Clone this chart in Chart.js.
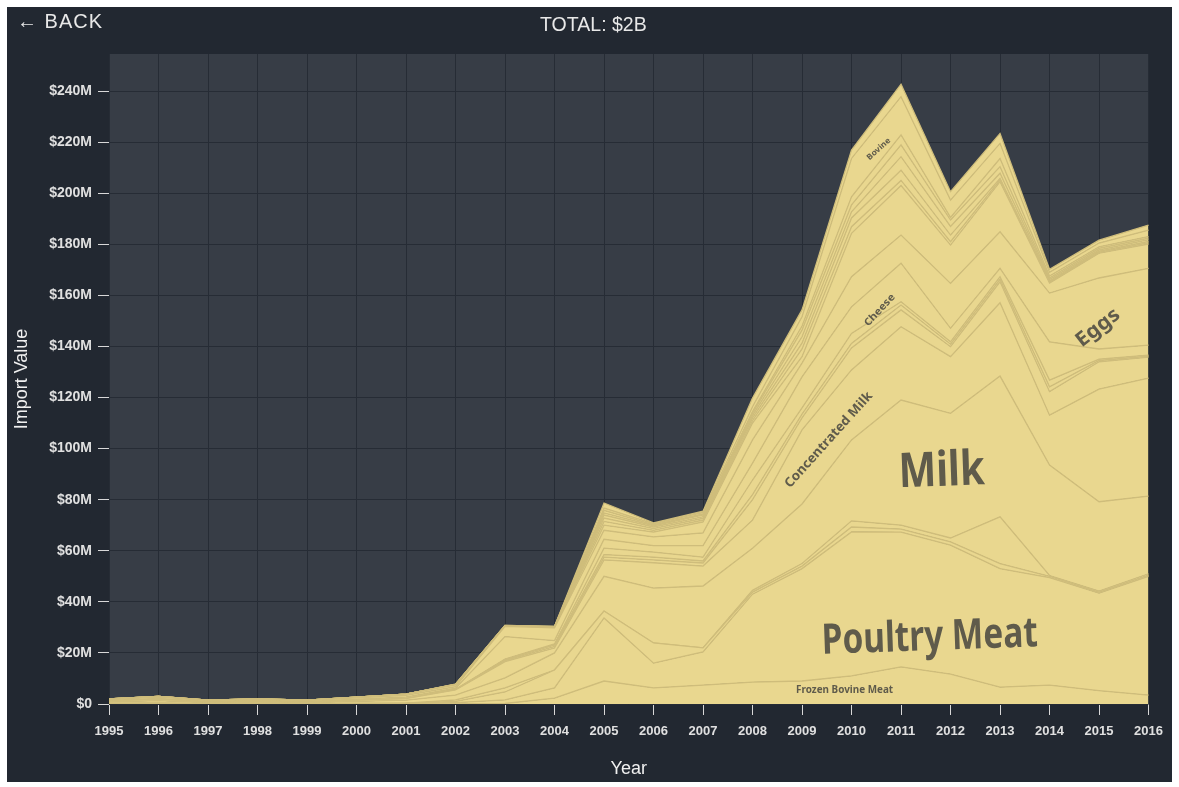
<!DOCTYPE html>
<html>
<head>
<meta charset="utf-8">
<title>Import Value</title>
<script src="https://cdn.jsdelivr.net/npm/chart.js@4.4.1/dist/chart.umd.min.js"></script>
<style>
    html, body { margin: 0; padding: 0; background: #ffffff; }
    #panel { position: absolute; left: 7px; top: 7px; width: 1165px; height: 775px; background: #222831; overflow: hidden; }
    #back { position: absolute; left: 10px; top: 3px; color: #e8e8e8; font: 20px 'Liberation Sans', Arial, sans-serif; letter-spacing: 1px; }
    #back b { font-weight: bold; }
    #total { position: absolute; left: 0; top: 5px; width: 1172px; text-align: center; color: #e8e8e8; font: 21px 'Liberation Sans', Arial, sans-serif; }
    #total span { display: inline-block; transform: scaleX(0.93); }
    canvas { position: absolute; left: 0; top: 0; }
</style>
</head>
<body>
<div id="panel">
    <canvas id="importChart" width="1165" height="775"></canvas>
    <div id="back"><b>&larr;</b> BACK</div>
    <div id="total"><span>TOTAL: $2B</span></div>
</div>
<script>
// Import value per product, $M, 1995-2016
const years = ['1995', '1996', '1997', '1998', '1999', '2000', '2001', '2002', '2003', '2004', '2005',
    '2006', '2007', '2008', '2009', '2010', '2011', '2012', '2013', '2014', '2015', '2016'];

const frozenBovineMeat = [0, 0, 0, 0, 0, 0, 0, 0, 0.2, 2.3, 9, 6.3, 7.4, 8.6, 9, 11, 14.5, 11.7, 6.6, 7.4, 5.2, 3.5];
const poultryMeat = [0.2, 0.3, 0.1, 0.2, 0.1, 0.2, 0.3, 0.5, 1.4, 4.0, 24.7, 9.7, 13.0, 34.4, 44, 56.4, 52.8, 50.5, 46.4, 42.1, 38.2, 46.5];
const swineMeat = [0, 0, 0, 0, 0, 0, 0, 0.5, 3.1, 7.0, 2.7, 7.9, 1.6, 0.8, 1, 1.9, 1.2, 1.3, 2, 0.5, 0.4, 0.5];
const offal = [0, 0, 0, 0, 0, 0, 0, 0.6, 1.6, 0, 0, 0, 0, 0.7, 1, 2.4, 1.5, 1.5, 18.3, 0.3, 0.4, 0.5];
const milk = [0.6, 1.0, 0.4, 0.6, 0.4, 0.8, 1.2, 1.9, 3.9, 6.7, 13.6, 21.5, 24.2, 16.5, 23.3, 31.7, 49, 48.8, 55.1, 43.3, 35, 30.4];
const concentratedMilk = [0.3, 0.5, 0.2, 0.3, 0.2, 0.4, 0.6, 2.0, 6.4, 1.9, 6.4, 9.9, 7.8, 11, 29, 27.4, 28.7, 22.2, 28.7, 19.5, 44.1, 46.2];
const yogurt = [0, 0, 0, 0, 0, 0, 0, 0.1, 0.4, 0.6, 1.1, 1.1, 1.2, 8.0, 4.7, 8.6, 6.6, 3.9, 8.2, 9.2, 10.7, 8.2];
const whey = [0, 0, 0, 0, 0, 0, 0, 0.1, 0.3, 0.6, 1.0, 1.1, 0.8, 2.0, 1.5, 1.8, 1.9, 1.0, 1.0, 1.9, 0.5, 0.4];
const iceCream = [0, 0, 0, 0, 0, 0, 0, 0.1, 0.3, 0.4, 2.5, 2.0, 1.5, 5.7, 2.4, 3.9, 1.3, 0.9, 1.0, 2.6, 0.5, 0.4];
const cheese = [0.3, 0.4, 0.3, 0.4, 0.3, 0.5, 0.6, 0.4, 8.8, 1.3, 3.5, 2.5, 4.5, 6.6, 12.2, 10.4, 15.1, 5.3, 3.3, 15, 4, 3.9];
const eggs = [0.3, 0.5, 0.3, 0.3, 0.3, 0.5, 0.7, 0.6, 4.0, 5.0, 3.5, 3.4, 5.0, 9.1, 5.4, 11.8, 11, 17.6, 14.3, 19.1, 27.8, 30.1];
const butter = [0.3, 0.3, 0.2, 0.2, 0.2, 0.3, 0.5, 0.65, 0.05, 0.1, 2.0, 1.9, 4.3, 6.6, 2.5, 17, 19.4, 15, 19.6, 3.9, 9.7, 9.5];
const sausages = [0, 0, 0, 0, 0, 0, 0, 0.05, 0.05, 0.1, 1.5, 0.7, 0.7, 1.0, 3, 2.6, 2, 1.3, 0.7, 0.4, 0.4, 0.5];
const honey = [0, 0, 0, 0, 0, 0, 0, 0.05, 0.05, 0.1, 1.3, 0.7, 0.7, 1.0, 2.3, 3.4, 4, 2.6, 0.6, 0.4, 0.4, 0.5];
const lard = [0, 0, 0, 0, 0, 0, 0, 0.05, 0.05, 0.05, 1.2, 0.6, 0.6, 1.0, 2.5, 2.4, 5.3, 3.4, 2, 0.6, 0.5, 0.7];
const buttermilk = [0, 0, 0, 0, 0, 0, 0, 0.05, 0.05, 0.05, 0.8, 0.5, 0.7, 0.9, 2.6, 2.7, 4.6, 2.5, 2.6, 0.6, 0.6, 0.6];
const cream = [0, 0, 0, 0, 0, 0, 0, 0.05, 0.05, 0.05, 1.0, 0.4, 0.4, 0.6, 1.6, 3.2, 3.9, 1, 3.2, 0.8, 0.6, 0.6];
const bovine = [0, 0, 0, 0, 0, 0, 0, 0.05, 0.05, 0.1, 0.9, 0.4, 0.6, 1.9, 3.6, 15, 15, 6.8, 5.9, 1.4, 1.5, 2.5];
const otherMeat = [0, 0, 0, 0, 0, 0, 0, 0.05, 0.05, 0.05, 2.0, 0.3, 0.5, 3.4, 2.7, 3.3, 4.9, 3.3, 3.9, 1.2, 1.1, 2];

// bottom to top
const layers = [
    ['Frozen Bovine Meat', frozenBovineMeat],
    ['Poultry Meat', poultryMeat],
    ['Swine Meat', swineMeat],
    ['Offal', offal],
    ['Milk', milk],
    ['Concentrated Milk', concentratedMilk],
    ['Yogurt', yogurt],
    ['Whey', whey],
    ['Ice Cream', iceCream],
    ['Cheese', cheese],
    ['Eggs', eggs],
    ['Butter', butter],
    ['Sausages', sausages],
    ['Honey', honey],
    ['Lard', lard],
    ['Buttermilk', buttermilk],
    ['Cream', cream],
    ['Bovine', bovine],
    ['Other Meat', otherMeat]
];

const yTicks = [0, 20, 40, 60, 80, 100, 120, 140, 160, 180, 200, 220, 240];

// text drawn inside the bands: x = year index, y = $M
const bandLabels = [
    { text: 'Milk', at: 16.82, value: 90.8, size: 48, width: 86, angle: -2 },
    { text: 'Poultry Meat', at: 16.58, value: 25.8, size: 42, width: 216, angle: -2 },
    { text: 'Frozen Bovine Meat', at: 14.86, value: 5.5, size: 11, width: 97, angle: 0 },
    { text: 'Concentrated Milk', at: 14.54, value: 103.4, size: 13, width: 124, angle: -48 },
    { text: 'Cheese', at: 15.57, value: 154.2, size: 10, width: 40, angle: -47 },
    { text: 'Bovine', at: 15.55, value: 217.3, size: 8, width: 29, angle: -42 },
    { text: 'Eggs', at: 19.98, value: 147.3, size: 20, width: 50, angle: -38 }
];

const AREA_FILL = '#e9d78f';
const AREA_LINE = '#cfbd7b';
const GRID = '#262c35';
const TEXT = '#e0e0e0';

const plotBackground = {
    id: 'plotBackground',
    beforeDraw(chart) {
        const { ctx, chartArea: a } = chart;
        ctx.save();
        ctx.fillStyle = '#373d46';
        ctx.fillRect(a.left, a.top, a.right - a.left, a.bottom - a.top);
        ctx.restore();
    }
};

const bandText = {
    id: 'bandText',
    afterDatasetsDraw(chart) {
        const { ctx, scales: { x, y } } = chart;
        bandLabels.forEach(l => {
            ctx.save();
            ctx.translate(x.getPixelForValue(l.at), y.getPixelForValue(l.value));
            ctx.rotate(l.angle * Math.PI / 180);
            ctx.font = `bold ${l.size}px 'Noto Sans', 'Open Sans', sans-serif`;
            const w = ctx.measureText(l.text).width;
            ctx.scale(l.width / w, 1);
            ctx.fillStyle = '#5f5b4b';
            ctx.textAlign = 'center';
            ctx.textBaseline = 'middle';
            ctx.fillText(l.text, 0, 0);
            ctx.restore();
        });
    }
};

const datasets = layers.map(([label, data], i) => ({
    label,
    data,
    fill: i === 0 ? 'origin' : '-1',
    backgroundColor: AREA_FILL,
    borderColor: AREA_LINE,
    borderWidth: 1.3,
    pointRadius: 0,
    pointHitRadius: 0,
    tension: 0
}));

new Chart(document.getElementById('importChart'), {
    type: 'line',
    data: { labels: years, datasets },
    options: {
        responsive: false,
        animation: false,
        layout: { padding: { top: 47, right: 23, left: 0, bottom: 0 } },
        plugins: { legend: { display: false }, tooltip: { enabled: false } },
        scales: {
            x: {
                grid: { color: GRID, tickColor: '#d8d8d8', tickLength: 11 },
                border: { display: false },
                ticks: { color: TEXT, font: { family: "'Liberation Sans', Arial", size: 13, weight: 'bold' }, padding: 9, maxRotation: 0, autoSkip: false },
                title: { display: true, text: 'Year', color: '#f0f0f0', font: { family: "'Liberation Sans', Arial", size: 18 }, padding: { top: 4, bottom: 2 } },
                afterFit: s => { s.height = 78; }
            },
            y: {
                stacked: true,
                min: 0,
                max: 254.5,
                grid: { color: GRID, tickColor: '#d8d8d8', tickLength: 11 },
                border: { display: false },
                ticks: {
                    stepSize: 20,
                    color: TEXT,
                    padding: 6,
                    font: { family: "'Liberation Sans', Arial", size: 14, weight: 'bold' },
                    callback: v => v === 0 ? '$0' : `$${v}M`
                },
                afterBuildTicks: s => { s.ticks = yTicks.map(v => ({ value: v })); },
                title: { display: true, text: 'Import Value', color: '#f0f0f0', font: { family: "'Liberation Sans', Arial", size: 18 }, padding: { top: 4, bottom: 4 } },
                afterFit: s => { s.width = 102; }
            }
        }
    },
    plugins: [plotBackground, bandText]
});
</script>
</body>
</html>
